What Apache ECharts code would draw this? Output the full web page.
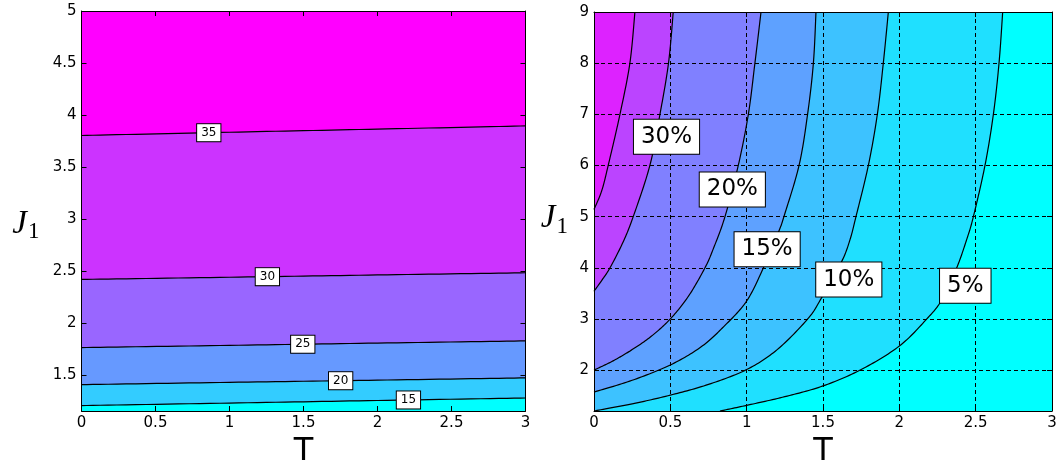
<!DOCTYPE html>
<html><head><meta charset="utf-8">
<script src="https://cdn.jsdelivr.net/npm/echarts@6/dist/echarts.min.js"></script>
<style>html,body{margin:0;padding:0;background:#fff}#c{width:1059px;height:464px}</style>
</head><body><div id="c"></div>
<script>
// ---------------- Left panel data (T, J1) ----------------
const leftYTicks = [1.5, 2, 2.5, 3, 3.5, 4, 4.5, 5];
const leftLevels = ['35', '30', '25', '20', '15'];
const leftC35 = [[0, 3.805], [1, 3.836], [2, 3.866], [3, 3.897]];
const leftC30 = [[0, 2.423], [1, 2.444], [2, 2.466], [3, 2.487]];
const leftC25 = [[0, 1.769], [1, 1.790], [2, 1.812], [3, 1.833]];
const leftC20 = [[0, 1.413], [1, 1.435], [2, 1.456], [3, 1.478]];
const leftC15 = [[0, 1.212], [1, 1.236], [2, 1.261], [3, 1.285]];
const leftLabelT = [0.86, 1.256, 1.495, 1.751, 2.209];

// ---------------- Right panel data (T, J1) ----------------
const rightYTicks = [2, 3, 4, 5, 6, 7, 8, 9];
const rightLevels = ['', '30%', '20%', '15%', '10%', '5%'];
const rightC40 = [[0, 5.14], [0.05, 5.5], [0.093, 6], [0.17, 7], [0.235, 8], [0.268, 9]];
const rightC30 = [[0, 3.54], [0.05, 3.75], [0.105, 4.0], [0.19, 4.5], [0.257, 5], [0.366, 6], [0.432, 7], [0.488, 8], [0.519, 9]];
const rightC20 = [[0, 2.0], [0.125, 2.18], [0.25, 2.4], [0.375, 2.66], [0.5, 3.0], [0.62, 3.45], [0.727, 4.0], [0.78, 4.36], [0.858, 5], [0.945, 6], [1.011, 7], [1.054, 8], [1.094, 9]];
const rightC15 = [[0, 1.57], [0.25, 1.8], [0.5, 2.1], [0.7, 2.45], [0.85, 2.85], [1.0, 3.35], [1.11, 4.0], [1.16, 4.36], [1.214, 4.74], [1.244, 5], [1.343, 6], [1.399, 7], [1.437, 8], [1.454, 9]];
const rightC10 = [[0, 1.2], [0.25, 1.34], [0.5, 1.51], [0.75, 1.72], [1.0, 2.01], [1.2, 2.4], [1.4, 3.0], [1.49, 3.41], [1.622, 4.12], [1.677, 4.55], [1.716, 5], [1.797, 6], [1.856, 7], [1.895, 8], [1.928, 9]];
const rightC5 = [[0.825, 1.2], [1.0, 1.31], [1.25, 1.48], [1.5, 1.69], [1.75, 2.01], [2.0, 2.47], [2.18, 3.0], [2.28, 3.38], [2.376, 4.0], [2.441, 4.55], [2.485, 5], [2.561, 6], [2.616, 7], [2.653, 8], [2.677, 9]];
const rightLabelT = [null, 0.475, 0.906, 1.134, 1.669, 2.432];
const rightLabelJ = [null, 6.56, 5.53, 4.36, 3.77, 3.65];

// ---------------- styles ----------------
const leftTopColor = '#ff00ff';
const leftFillColors = ['#cc33ff', '#9966ff', '#6699ff', '#33ccff', '#00ffff'];
const rightTopColor = '#dd22ff';
const rightFillColors = ['#bb44ff', '#8080ff', '#5ea1ff', '#3dc2ff', '#1fe0ff', '#00ffff'];

const L_MIN = 1.16, L_MAX = 5, R_MIN = 1.2, R_MAX = 9, T_MIN = 0, T_MAX = 3;
const leftContours = [leftC35, leftC30, leftC25, leftC20, leftC15];
const rightContours = [rightC40, rightC30, rightC20, rightC15, rightC10, rightC5];

function interpJ(curve, t) {
  for (let i = 0; i < curve.length - 1; i++) {
    const a = curve[i], b = curve[i + 1];
    if (t >= a[0] && t <= b[0]) return a[1] + (b[1] - a[1]) * (t - a[0]) / (b[0] - a[0]);
  }
  return curve[curve.length - 1][1];
}

// smooth rendering of a pixel polyline (Catmull-Rom -> sampled), drawing only
function smoothPx(p) {
  if (p.length < 3) return p;
  const out = [];
  const n = p.length;
  for (let i = 0; i < n - 1; i++) {
    const p0 = p[Math.max(i - 1, 0)], p1 = p[i], p2 = p[i + 1], p3 = p[Math.min(i + 2, n - 1)];
    const c1 = [p1[0] + (p2[0] - p0[0]) / 6, p1[1] + (p2[1] - p0[1]) / 6];
    const c2 = [p2[0] - (p3[0] - p1[0]) / 6, p2[1] - (p3[1] - p1[1]) / 6];
    const steps = 16;
    for (let s = 0; s < steps; s++) {
      const t = s / steps, u = 1 - t;
      out.push([
        u * u * u * p1[0] + 3 * u * u * t * c1[0] + 3 * u * t * t * c2[0] + t * t * t * p2[0],
        u * u * u * p1[1] + 3 * u * u * t * c1[1] + 3 * u * t * t * c2[1] + t * t * t * p2[1]
      ]);
    }
  }
  out.push(p[n - 1]);
  return out;
}

function fillSeries(curve, corners, color, xi, yi) {
  return {
    type: 'custom', xAxisIndex: xi, yAxisIndex: yi, z: 2, silent: true,
    data: [curve[0]],
    renderItem: function (params, api) {
      const pts = smoothPx(curve.map(p => api.coord(p))).concat(corners.map(p => api.coord(p)));
      return { type: 'polygon', shape: { points: pts }, style: { fill: color, stroke: null } };
    }
  };
}
function strokeSeries(curve, xi, yi) {
  return {
    type: 'custom', xAxisIndex: xi, yAxisIndex: yi, z: 4, silent: true,
    data: [curve[0]],
    renderItem: function (params, api) {
      const pts = smoothPx(curve.map(p => api.coord(p)));
      return { type: 'polyline', shape: { points: pts }, style: { fill: null, stroke: '#000', lineWidth: 1.2 } };
    }
  };
}

const series = [];
leftContours.forEach((c, i) => series.push(fillSeries(c, [[T_MAX, L_MIN], [T_MIN, L_MIN]], leftFillColors[i], 0, 0)));
leftContours.forEach(c => series.push(strokeSeries(c, 0, 0)));
series.push({
  type: 'scatter', xAxisIndex: 0, yAxisIndex: 0, z: 5, silent: true,
  symbol: 'rect', symbolSize: 1, itemStyle: { color: 'rgba(0,0,0,0)', opacity: 1 },
  data: leftLevels.map((lv, i) => ({ name: lv, value: [leftLabelT[i], interpJ(leftContours[i], leftLabelT[i])] })),
  label: {
    show: true, position: 'inside', formatter: '{b}', color: '#000', opacity: 1,
    fontFamily: 'DejaVu Sans', fontSize: 12, backgroundColor: '#fff',
    borderColor: '#000', borderWidth: 1, padding: [3, 4, 2, 4]
  }
});
rightContours.forEach((c, i) => series.push(fillSeries(c, [[T_MAX, R_MAX], [T_MAX, R_MIN], [T_MIN, R_MIN]], rightFillColors[i], 2, 2)));
rightContours.forEach(c => series.push(strokeSeries(c, 2, 2)));
series.push({
  type: 'scatter', xAxisIndex: 2, yAxisIndex: 2, z: 5, silent: true,
  symbol: 'rect', symbolSize: 1, itemStyle: { color: 'rgba(0,0,0,0)', opacity: 1 },
  data: rightLevels.map((lv, i) => ({ name: lv, value: [rightLabelT[i], rightLabelJ[i]] })).filter(d => d.name),
  label: {
    show: true, position: 'inside', formatter: '{b}', color: '#000', opacity: 1,
    fontFamily: 'DejaVu Sans', fontSize: 23, backgroundColor: '#fff',
    borderColor: '#000', borderWidth: 1, padding: [6, 7, 5, 7]
  }
});

const tickFont = { color: '#000', fontFamily: 'DejaVu Sans', fontSize: 15 };
const axLine = { show: true, onZero: false, lineStyle: { color: '#000', width: 1 } };
const inTick = { show: true, inside: true, length: 5, lineStyle: { color: '#000', width: 1 } };
function jName(padTop) {
  return {
    padding: [padTop, 0, 0, 0],
    rich: {
      a: { fontFamily: 'Liberation Serif', fontStyle: 'italic', fontSize: 33, color: '#000' },
      b: { fontFamily: 'Liberation Serif', fontSize: 23, color: '#000', padding: [16, 0, 0, 1] }
    }
  };
}
function xAxes(gi) {
  return [
    { type: 'value', gridIndex: gi, position: 'bottom', min: T_MIN, max: T_MAX, interval: 0.5, z: 3,
      axisLine: axLine, axisTick: inTick,
      axisLabel: Object.assign({ margin: 5 }, tickFont),
      splitLine: gi === 1 ? { show: true, lineStyle: { color: '#000', type: [4, 3], width: 1 } } : { show: false },
      name: 'T', nameLocation: 'middle', nameGap: 22,
      nameTextStyle: { fontFamily: 'DejaVu Sans', fontSize: 32, color: '#000' } },
    { type: 'value', gridIndex: gi, position: 'top', min: T_MIN, max: T_MAX, interval: 0.5, z: 3,
      axisLine: axLine, axisTick: inTick, axisLabel: { show: false }, splitLine: { show: false } }
  ];
}
function yAxes(gi, mn, mx, ticks, gap, padTop) {
  return [
    { type: 'value', gridIndex: gi, position: 'left', min: mn, max: mx, z: 3,
      axisLine: axLine, axisTick: Object.assign({ customValues: ticks }, inTick),
      axisLabel: Object.assign({ margin: 5, customValues: ticks }, tickFont),
      splitLine: gi === 1 ? { show: true, lineStyle: { color: '#000', type: [4, 3], width: 1 } } : { show: false },
      name: '{a|J}{b|1}', nameLocation: 'middle', nameRotate: 0, nameGap: gap,
      nameTextStyle: jName(padTop) },
    { type: 'value', gridIndex: gi, position: 'right', min: mn, max: mx, z: 3,
      axisLine: axLine, axisTick: Object.assign({ customValues: ticks }, inTick),
      axisLabel: { show: false, customValues: ticks }, splitLine: { show: false } }
  ];
}

const option = {
  animation: false,
  backgroundColor: '#fff',
  grid: [
    { left: 81.5, top: 11, width: 444, height: 400, show: true, backgroundColor: leftTopColor, borderWidth: 0,
      containLabel: false, outerBoundsMode: 'none' },
    { left: 594, top: 12, width: 458, height: 399, show: true, backgroundColor: rightTopColor, borderWidth: 0,
      containLabel: false, outerBoundsMode: 'none' }
  ],
  xAxis: xAxes(0).concat(xAxes(1)),
  yAxis: yAxes(0, L_MIN, L_MAX, leftYTicks, 42, 26).concat(yAxes(1, R_MIN, R_MAX, rightYTicks, 26, 14)),
  series: series
};
const chart = echarts.init(document.getElementById('c'), null, { renderer: 'canvas' });
chart.setOption(option);
</script></body></html>
